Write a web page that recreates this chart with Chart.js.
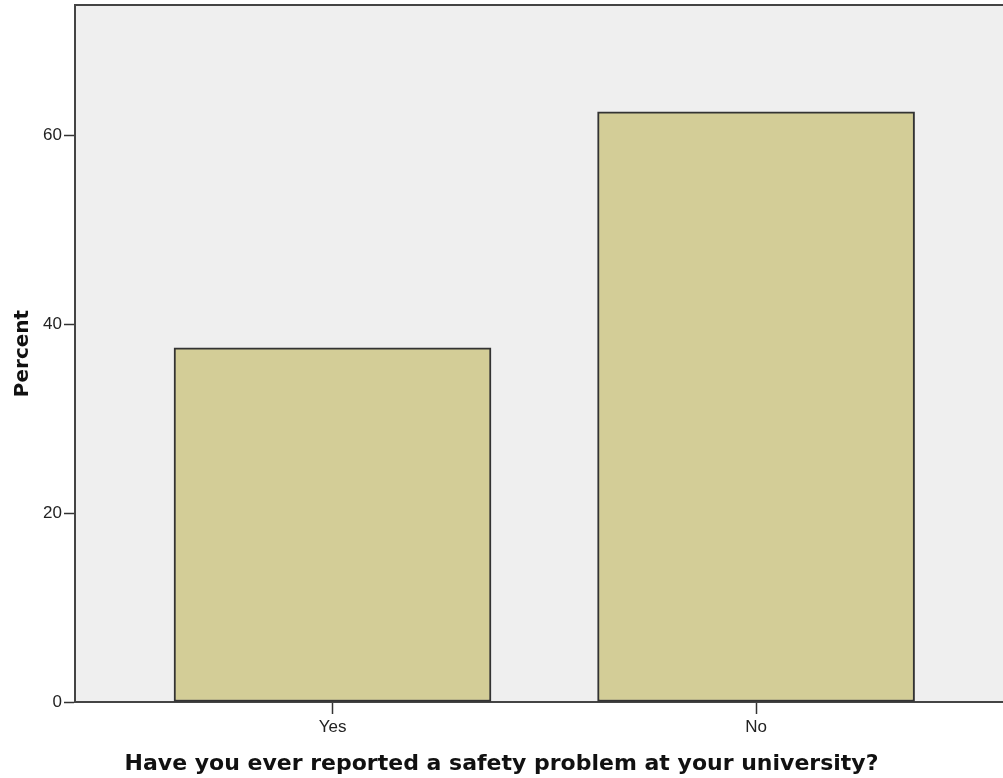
<!DOCTYPE html>
<html>
<head>
<meta charset="utf-8">
<script src="https://cdn.jsdelivr.net/npm/chart.js@4/dist/chart.umd.min.js"></script>
<style>
  html, body { margin: 0; padding: 0; background: #ffffff; overflow: hidden; }
  #wrap { width: 1003px; height: 778px; position: relative; }
</style>
</head>
<body>
<div id="wrap"><canvas id="bars"></canvas></div>
<script>
// Categories on the X axis
var categories = ['Yes', 'No'];
// Percent of answers for each category
var percents = [37.5, 62.5];
// Y axis ticks
var yTicks = [0, 20, 40, 60];
var yMax = 73.8;

var barColor = '#d3cd97';
var lineColor = '#333333';

// Bars are placed at x = 1, 2 ... on a linear scale
var points = [];
for (var i = 0; i < percents.length; i++)
{
	points.push({ x: i + 1, y: percents[i] });
}

// Grey plot background and top frame line
var plotFrame =
{
	id: 'plotFrame',
	beforeDraw: function (chart)
	{
		var a = chart.chartArea;
		var c = chart.ctx;
		c.save();
		c.fillStyle = '#efefef';
		c.fillRect(a.left, a.top, a.right - a.left, a.bottom - a.top);
		c.strokeStyle = '#444444';
		c.lineWidth = 2;
		c.beginPath();
		c.moveTo(a.left, a.top);
		c.lineTo(a.right, a.top);
		c.stroke();
		c.restore();
	}
};

var ctx = document.getElementById('bars');
var barChart = new Chart(ctx,
{
	type: 'bar',
	data:
	{
		datasets: [{
			label: 'Percent',
			data: points,
			backgroundColor: barColor,
			borderColor: lineColor,
			borderWidth: 2,
			borderSkipped: false,
			barThickness: 317
		}]
	},
	options:
	{
		responsive: true,
		maintainAspectRatio: false,
		animation: false,
		layout: { padding: { top: 5, right: 0, bottom: 0, left: 0 } },
		plugins:
		{
			legend: { display: false },
			tooltip: { enabled: false },
			title:
			{
				display: true,
				position: 'bottom',
				text: 'Have you ever reported a safety problem at your university?',
				color: '#111111',
				font: { family: 'DejaVu Sans', size: 22, weight: 'bold' },
				padding: { top: 0, bottom: 1 }
			}
		},
		scales:
		{
			x:
			{
				type: 'linear',
				offset: false,
				min: 0.392,
				max: 2.583,
				afterBuildTicks: function (scale)
				{
					scale.ticks = categories.map(function (c, i) { return { value: i + 1 }; });
				},
				afterFit: function (scale)
				{
					scale.height = 48.6;
					scale.paddingLeft = 0;
					scale.paddingRight = 0;
				},
				ticks:
				{
					autoSkip: false,
					maxRotation: 0,
					padding: 3,
					color: '#222222',
					font: { family: 'Liberation Sans', size: 17 },
					callback: function (v) { return categories[v - 1]; }
				},
				grid: { offset: false, drawOnChartArea: false, tickLength: 12, tickColor: lineColor, tickWidth: 1.5 },
				border: { display: true, color: '#444444', width: 2 }
			},
			y:
			{
				min: 0,
				max: yMax,
				afterBuildTicks: function (scale)
				{
					scale.ticks = yTicks.map(function (v) { return { value: v }; });
				},
				afterFit: function (scale)
				{
					scale.width = 75;
					scale.paddingTop = 0;
					scale.paddingBottom = 0;
				},
				ticks:
				{
					padding: 2,
					color: '#222222',
					font: { family: 'Liberation Sans', size: 17 }
				},
				grid: { drawOnChartArea: false, tickLength: 11, tickColor: lineColor, tickWidth: 1.5 },
				border: { display: true, color: '#444444', width: 2 },
				title:
				{
					display: true,
					text: 'Percent',
					color: '#111111',
					font: { family: 'DejaVu Sans', size: 20, weight: 'bold' },
					padding: { top: 11, bottom: 0 }
				}
			}
		}
	},
	plugins: [plotFrame]
});
</script>
</body>
</html>
